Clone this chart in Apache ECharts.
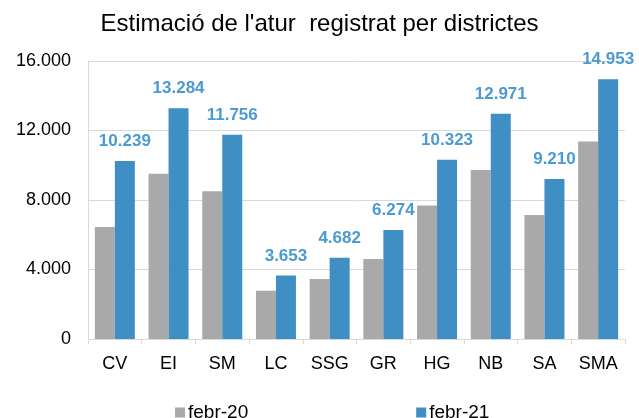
<!DOCTYPE html>
<html>
<head>
<meta charset="utf-8">
<script src="https://cdn.jsdelivr.net/npm/echarts@6/dist/echarts.min.js"></script>
<style>
  html, body { margin: 0; padding: 0; background: #fff; }
  #chart { width: 639px; height: 418px; }
</style>
</head>
<body>
<div id="chart"></div>
<script>
const categories = ['CV', 'EI', 'SM', 'LC', 'SSG', 'GR', 'HG', 'NB', 'SA', 'SMA'];
const febr20 = [6450, 9510, 8500, 2780, 3450, 4600, 7690, 9730, 7140, 11360];
const febr21 = [10239, 13284, 11756, 3653, 4682, 6274, 10323, 12971, 9210, 14953];
const yTicks = [0, 4000, 8000, 12000, 16000];

const fmt = v => String(v).replace(/\B(?=(\d{3})+(?!\d))/g, '.');
const font = 'Liberation Sans, Arial, sans-serif';

const chart = echarts.init(document.getElementById('chart'));
chart.setOption({
  animation: false,
  title: {
    text: "Estimació de l'atur  registrat per districtes",
    left: 'center',
    top: 7,
    textStyle: { fontFamily: font, fontSize: 24, fontWeight: 'normal', color: '#000' }
  },
  grid: { left: 88, right: 14, top: 61, bottom: 79 },
  legend: {
    left: 170,
    top: 398,
    itemGap: 168,
    itemWidth: 10,
    itemHeight: 10,
    icon: 'rect',
    textStyle: { fontFamily: font, fontSize: 19, color: '#000', padding: [0, 0, 0, -2] },
    data: ['febr-20', 'febr-21']
  },
  xAxis: {
    type: 'category',
    data: categories,
    axisLine: { lineStyle: { color: '#d9d9d9' } },
    axisTick: { show: true, length: 5, lineStyle: { color: '#d9d9d9' } },
    axisLabel: { fontFamily: font, fontSize: 18, color: '#000', margin: 16 }
  },
  yAxis: {
    type: 'value',
    min: yTicks[0],
    max: yTicks[yTicks.length - 1],
    interval: 4000,
    axisLine: { show: true, lineStyle: { color: '#d9d9d9' } },
    axisLabel: { fontFamily: font, fontSize: 18, color: '#000', margin: 17, formatter: fmt },
    splitLine: { lineStyle: { color: '#d9d9d9' } }
  },
  series: [
    {
      name: 'febr-20',
      type: 'bar',
      data: febr20,
      barWidth: 20,
      barGap: '0%',
      itemStyle: { color: '#a9a9a9' }
    },
    {
      name: 'febr-21',
      type: 'bar',
      data: febr21,
      barWidth: 20,
      itemStyle: { color: '#3f8ec4' },
      label: {
        show: true,
        position: 'top',
        distance: 11,
        fontFamily: font,
        fontSize: 17,
        fontWeight: 'bold',
        color: '#4b9ad1',
        formatter: p => fmt(p.value)
      }
    }
  ]
});
</script>
</body>
</html>
